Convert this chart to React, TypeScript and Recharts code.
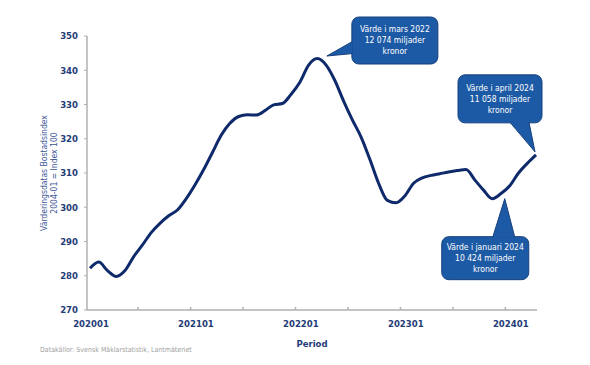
import { LineChart, Line, XAxis, YAxis, ReferenceDot } from "recharts";

// monthly, 2020-01 .. 2024-04
const periods = [
  "202001", "202002", "202003", "202004", "202005", "202006", "202007", "202008", "202009", "202010", "202011", "202012",
  "202101", "202102", "202103", "202104", "202105", "202106", "202107", "202108", "202109", "202110", "202111", "202112",
  "202201", "202202", "202203", "202204", "202205", "202206", "202207", "202208", "202209", "202210", "202211", "202212",
  "202301", "202302", "202303", "202304", "202305", "202306", "202307", "202308", "202309", "202310", "202311", "202312",
  "202401", "202402", "202403", "202404",
];

const indexValues = [
  282.2, 284.0, 281.5, 279.8, 281.5, 285.6, 289.0, 292.6, 295.3, 297.5, 299.2, 302.5,
  306.5, 311.0, 316.0, 321.0, 324.5, 326.5, 327.0, 326.9, 328.2, 329.9, 330.3, 333.0,
  336.5, 341.5, 343.4, 341.5, 337.0, 331.0, 325.5, 320.5, 314.0, 307.0, 302.0, 301.3,
  303.3, 307.0, 308.6, 309.3, 309.8, 310.3, 310.7, 311.0, 308.0, 305.0, 302.5, 304.0,
  306.3, 310.0, 312.8, 315.3,
];

const yTicks = [270, 280, 290, 300, 310, 320, 330, 340, 350];

const calloutMar22 = ["Värde i mars 2022", "12 074 miljader", "kronor"];
const calloutApr24 = ["Värde i april 2024", "11 058 miljader", "kronor"];
const calloutJan24 = ["Värde i januari 2024", "10 424 miljader", "kronor"];

const data = periods.map((p, i) => ({ period: p, value: indexValues[i] }));

const NAVY = "#0f2a6b";
const TICK = "#1f3c78";
const AXIS = "#b0b0b0";
const FONT = "'Liberation Sans Narrow', 'DejaVu Sans Condensed', 'Roboto', sans-serif";

const W = 590;
const H = 365;
const M = { top: 36, right: 53, left: 37, bottom: 15 };
const Y_W = 50;
const PAD = { left: 3, right: 1 };
const STEP = (W - M.left - Y_W - M.right - PAD.left - PAD.right) / (periods.length - 1);

function XTick(props: any) {
  const { x, y, payload } = props;
  const idx = payload?.index ?? props.index;
  return (
    <g>
      {idx % 6 === 0 && idx > 0 && (
        <line x1={x - STEP / 2} x2={x - STEP / 2} y1={y - 3} y2={y} stroke={AXIS} strokeWidth={1.5} />
      )}
      {idx % 12 === 0 && (
        <text x={x + 1} y={y + 17} textAnchor="middle" fontSize={9.5} fontWeight={600} fill={TICK} fontFamily={FONT}>
          {payload.value}
        </text>
      )}
    </g>
  );
}

interface CalloutProps {
  cx?: number;
  cy?: number;
  lines: string[];
  tip: [number, number];
  box: [number, number, number, number];
  base: [[number, number], [number, number]];
}

function Callout({ cx = 0, cy = 0, lines, tip, box, base }: CalloutProps) {
  const [bx, by, bw, bh] = box;
  const t = [cx + tip[0], cy + tip[1]];
  const b1 = [cx + base[0][0], cy + base[0][1]];
  const b2 = [cx + base[1][0], cy + base[1][1]];
  const midY = cy + by + bh / 2;
  return (
    <g>
      <rect x={cx + bx} y={cy + by} width={bw} height={bh} rx={7} fill="#1d5aa6" stroke="#163f7c" strokeWidth={1} />
      <polygon points={`${b1[0]},${b1[1]} ${t[0]},${t[1]} ${b2[0]},${b2[1]}`} fill="#1d5aa6" />
      <polyline
        points={`${b1[0]},${b1[1]} ${t[0]},${t[1]} ${b2[0]},${b2[1]}`}
        fill="none"
        stroke="#163f7c"
        strokeWidth={1}
      />
      {lines.map((l, i) => (
        <text
          key={i}
          x={cx + bx + bw / 2}
          y={midY + (i - 1) * 11}
          dy="0.35em"
          textAnchor="middle"
          fontSize={8.5}
          fill="#ffffff"
          fontFamily={FONT}
        >
          {l}
        </text>
      ))}
    </g>
  );
}

export default function App() {
  return (
    <div style={{ position: "absolute", left: 0, top: 0, width: W, height: H, background: "#fff" }}>
      <LineChart width={W} height={H} data={data} margin={M}>
        <XAxis
          dataKey="period"
          interval={0}
          tick={<XTick />}
          tickLine={false}
          tickSize={0}
          tickMargin={0}
          height={40}
          padding={PAD}
          axisLine={{ stroke: AXIS, strokeWidth: 1.5 }}
          label={{
            value: "Period",
            position: "insideBottom",
            offset: 3,
            fill: TICK,
            fontSize: 9.5,
            fontWeight: 600,
            fontFamily: FONT,
          }}
        />
        <YAxis
          domain={[270, 350]}
          ticks={yTicks}
          width={Y_W}
          tickSize={3}
          tickMargin={6}
          tickLine={{ stroke: AXIS }}
          axisLine={{ stroke: AXIS, strokeWidth: 1.5 }}
          tick={{ fill: TICK, fontSize: 9.5, fontWeight: 600, fontFamily: FONT }}
          label={({ viewBox }: any) => {
            const cy = viewBox.y + viewBox.height / 2;
            return (
              <g fontFamily={FONT} fontSize={8.5} fill="#3a5595" textAnchor="middle">
                <text transform={`translate(${47},${cy}) rotate(-90)`}>Värderingsdatas Bostadsindex</text>
                <text transform={`translate(${57},${cy}) rotate(-90)`}>2004-01 = Index 100</text>
              </g>
            );
          }}
        />
        <Line
          type="monotone"
          dataKey="value"
          stroke={NAVY}
          strokeWidth={3}
          dot={false}
          activeDot={false}
          isAnimationActive={false}
        />
        <ReferenceDot
          x="202203"
          y={indexValues[periods.indexOf("202203")]}
          ifOverflow="visible"
          shape={(p: any) => (
            <Callout
              cx={p.cx}
              cy={p.cy}
              lines={calloutMar22}
              tip={[9.5, -2.6]}
              box={[34.5, -41.6, 86, 47]}
              base={[[35, -17], [35, -5]]}
            />
          )}
        />
        <ReferenceDot
          x="202404"
          y={indexValues[periods.indexOf("202404")]}
          ifOverflow="visible"
          shape={(p: any) => (
            <Callout
              cx={p.cx}
              cy={p.cy}
              lines={calloutApr24}
              tip={[-1, -3]}
              box={[-78, -80, 84, 48]}
              base={[[-26, -32.5], [-7, -32.5]]}
            />
          )}
        />
        <ReferenceDot
          x="202401"
          y={indexValues[periods.indexOf("202401")]}
          ifOverflow="visible"
          shape={(p: any) => (
            <Callout
              cx={p.cx}
              cy={p.cy}
              lines={calloutJan24}
              tip={[-5, 13]}
              box={[-68, 51, 87, 43]}
              base={[[-17, 51.5], [5, 51.5]]}
            />
          )}
        />
      </LineChart>
      <div
        style={{
          position: "absolute",
          left: 40,
          top: 346,
          fontSize: 7,
          color: "#a0a0a0",
          fontFamily: FONT,
          whiteSpace: "nowrap",
        }}
      >
        Datakällor: Svensk Mäklarstatistik, Lantmäteriet
      </div>
    </div>
  );
}
